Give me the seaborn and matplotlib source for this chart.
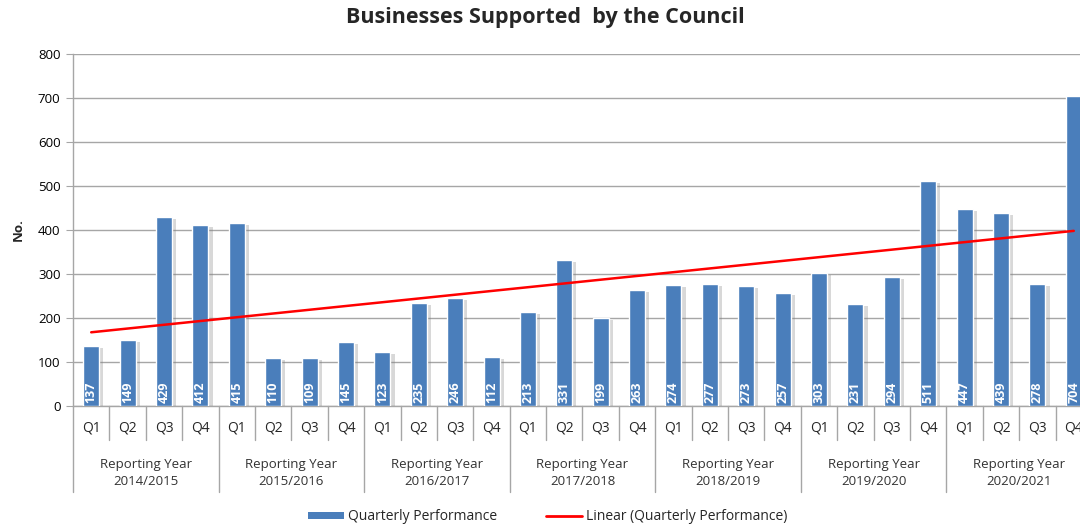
import numpy as np
import pandas as pd
import seaborn as sns
from matplotlib import pyplot as plt
from matplotlib import transforms
from matplotlib import patheffects as pe
from matplotlib.patches import Patch
from matplotlib.lines import Line2D

years = ['2014/2015', '2015/2016', '2016/2017', '2017/2018',
         '2018/2019', '2019/2020', '2020/2021']
quarters = ['Q1', 'Q2', 'Q3', 'Q4']
values = [137, 149, 429, 412,
          415, 110, 109, 145,
          123, 235, 246, 112,
          213, 331, 199, 263,
          274, 277, 273, 257,
          303, 231, 294, 511,
          447, 439, 278, 704]

df = pd.DataFrame({
    'year': np.repeat(years, 4),
    'quarter': quarters * len(years),
    'value': values,
})
df['period'] = df['year'] + ' ' + df['quarter']
df['pos'] = np.arange(len(df))

sns.set_style('white')
plt.rcParams['font.family'] = ['Open Sans', 'DejaVu Sans']

fig = plt.figure(figsize=(10.8, 5.28), dpi=100)
ax = fig.add_axes([0.0676, 0.2311, 0.9435, 0.6667])

grid_col = '#A6A6A6'
bar_col = '#4A7EBB'

sns.barplot(data=df, x='period', y='value', color=bar_col, width=0.44,
            saturation=1, ax=ax, zorder=3)
for p in ax.patches:
    p.set_path_effects([pe.SimplePatchShadow(offset=(3, -1.5), alpha=0.3,
                                             shadow_rgbFace='#7F7F7F'),
                        pe.Normal()])

# linear trendline (Excel style)
sns.regplot(data=df, x='pos', y='value', scatter=False, ci=None,
            color='#FF0000', line_kws={'lw': 1.8, 'zorder': 4}, ax=ax)

# value labels inside the bars
for i, v in enumerate(df['value']):
    ax.text(i, 6, str(v), rotation=90, ha='center', va='bottom',
            color='white', fontsize=9, fontweight='bold', zorder=5)

ax.set_ylim(0, 800)
ax.set_xlim(-0.5, len(df) - 0.5)
ax.set_yticks(range(0, 801, 100))
ax.yaxis.grid(True, color=grid_col, lw=1)
ax.set_axisbelow(True)
ax.set_xticks([])
ax.set_xlabel('')
ax.set_ylabel('')
ax.tick_params(axis='y', length=5, color=grid_col, labelsize=9.5,
               labelcolor='#000000', left=True, pad=4)
for s in ['top', 'right']:
    ax.spines[s].set_visible(False)
for s in ['left', 'bottom']:
    ax.spines[s].set_color(grid_col)
    ax.spines[s].set_linewidth(1)

# two-level category axis
tr = transforms.blended_transform_factory(ax.transData, fig.transFigure)
y0 = 0.2311
for i, row in df.iterrows():
    ax.text(i, 0.189, row['quarter'], transform=tr, ha='center', va='center',
            fontsize=10, clip_on=False)
    if i % 4 != 0:
        ax.plot([i - 0.5, i - 0.5], [y0, 0.1667], transform=tr,
                color=grid_col, lw=1, clip_on=False)
for k, yr in enumerate(years):
    ax.plot([4 * k - 0.5, 4 * k - 0.5], [y0, 0.068], transform=tr,
            color=grid_col, lw=1, clip_on=False)
    ax.text(4 * k + 1.5, 0.104, 'Reporting Year\n' + yr, transform=tr,
            ha='center', va='center', fontsize=9.5, linespacing=1.35,
            color='#333333', clip_on=False)

fig.text(0.505, 0.966, 'Businesses Supported  by the Council', ha='center',
         va='center', fontsize=15.5, fontweight='bold')
fig.text(0.017, 0.565, 'No.', rotation=90, ha='center', va='center',
         fontsize=9.5, fontweight='bold')

handles = [Patch(facecolor=bar_col, edgecolor='none'),
           Line2D([0], [0], color='#FF0000', lw=2)]
fig.legend(handles, ['Quarterly Performance', 'Linear (Quarterly Performance)'],
           loc='center', bbox_to_anchor=(0.507, 0.021), ncol=2, frameon=False,
           fontsize=10, handlelength=2.6, handleheight=0.5, columnspacing=3.5,
           handletextpad=0.3)

fig.savefig('out.png', dpi=100)
